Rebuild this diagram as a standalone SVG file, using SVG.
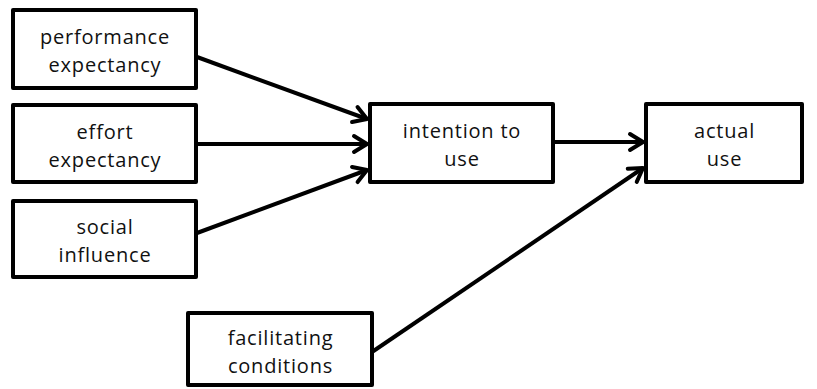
<svg xmlns="http://www.w3.org/2000/svg" width="817" height="389" viewBox="0 0 817 389">
  <style>
    .box { fill: #ffffff; stroke: #000000; stroke-width: 4; stroke-linejoin: round; }
    .label { font-family: "Open Sans", "Liberation Sans", sans-serif; font-size: 20px; letter-spacing: 0.8px; fill: #111111; text-anchor: middle; }
    .edge { stroke: #000000; stroke-width: 4; fill: none; }
  </style>
  <defs>
    <marker id="arrow" markerUnits="userSpaceOnUse" markerWidth="20" markerHeight="24" viewBox="-16 -10 20 20" refX="0" refY="0" orient="auto">
      <polyline points="-13,-8 0,0 -13,8" fill="none" stroke="#000000" stroke-width="4" stroke-linecap="round" stroke-linejoin="round"/>
    </marker>
  </defs>

  <g id="connectors">
    <line class="edge" x1="197" y1="57" x2="367" y2="119" marker-end="url(#arrow)"/>
    <line class="edge" x1="197" y1="144" x2="367" y2="144" marker-end="url(#arrow)"/>
    <line class="edge" x1="197" y1="233" x2="367" y2="170" marker-end="url(#arrow)"/>
    <line class="edge" x1="553" y1="142" x2="643" y2="142" marker-end="url(#arrow)"/>
    <line class="edge" x1="372" y1="352" x2="643" y2="168" marker-end="url(#arrow)"/>
  </g>

  <g id="performance-expectancy">
    <rect class="box" x="13" y="10" width="183" height="78"/>
    <text class="label" x="105" y="44">performance</text>
    <text class="label" x="105" y="71.5">expectancy</text>
  </g>

  <g id="effort-expectancy">
    <rect class="box" x="13" y="105" width="183" height="77"/>
    <text class="label" x="105" y="139">effort</text>
    <text class="label" x="105" y="166.5">expectancy</text>
  </g>

  <g id="social-influence">
    <rect class="box" x="13" y="201" width="183" height="76"/>
    <text class="label" x="105" y="234">social</text>
    <text class="label" x="105" y="261.5">influence</text>
  </g>

  <g id="intention-to-use">
    <rect class="box" x="370" y="104" width="183" height="78"/>
    <text class="label" x="462" y="138">intention to</text>
    <text class="label" x="462" y="165.5">use</text>
  </g>

  <g id="actual-use">
    <rect class="box" x="646" y="104" width="156" height="78"/>
    <text class="label" x="724.5" y="138">actual</text>
    <text class="label" x="724.5" y="165.5">use</text>
  </g>

  <g id="facilitating-conditions">
    <rect class="box" x="188" y="313" width="184" height="72"/>
    <text class="label" x="280.5" y="345">facilitating</text>
    <text class="label" x="280.5" y="372.5">conditions</text>
  </g>
</svg>
